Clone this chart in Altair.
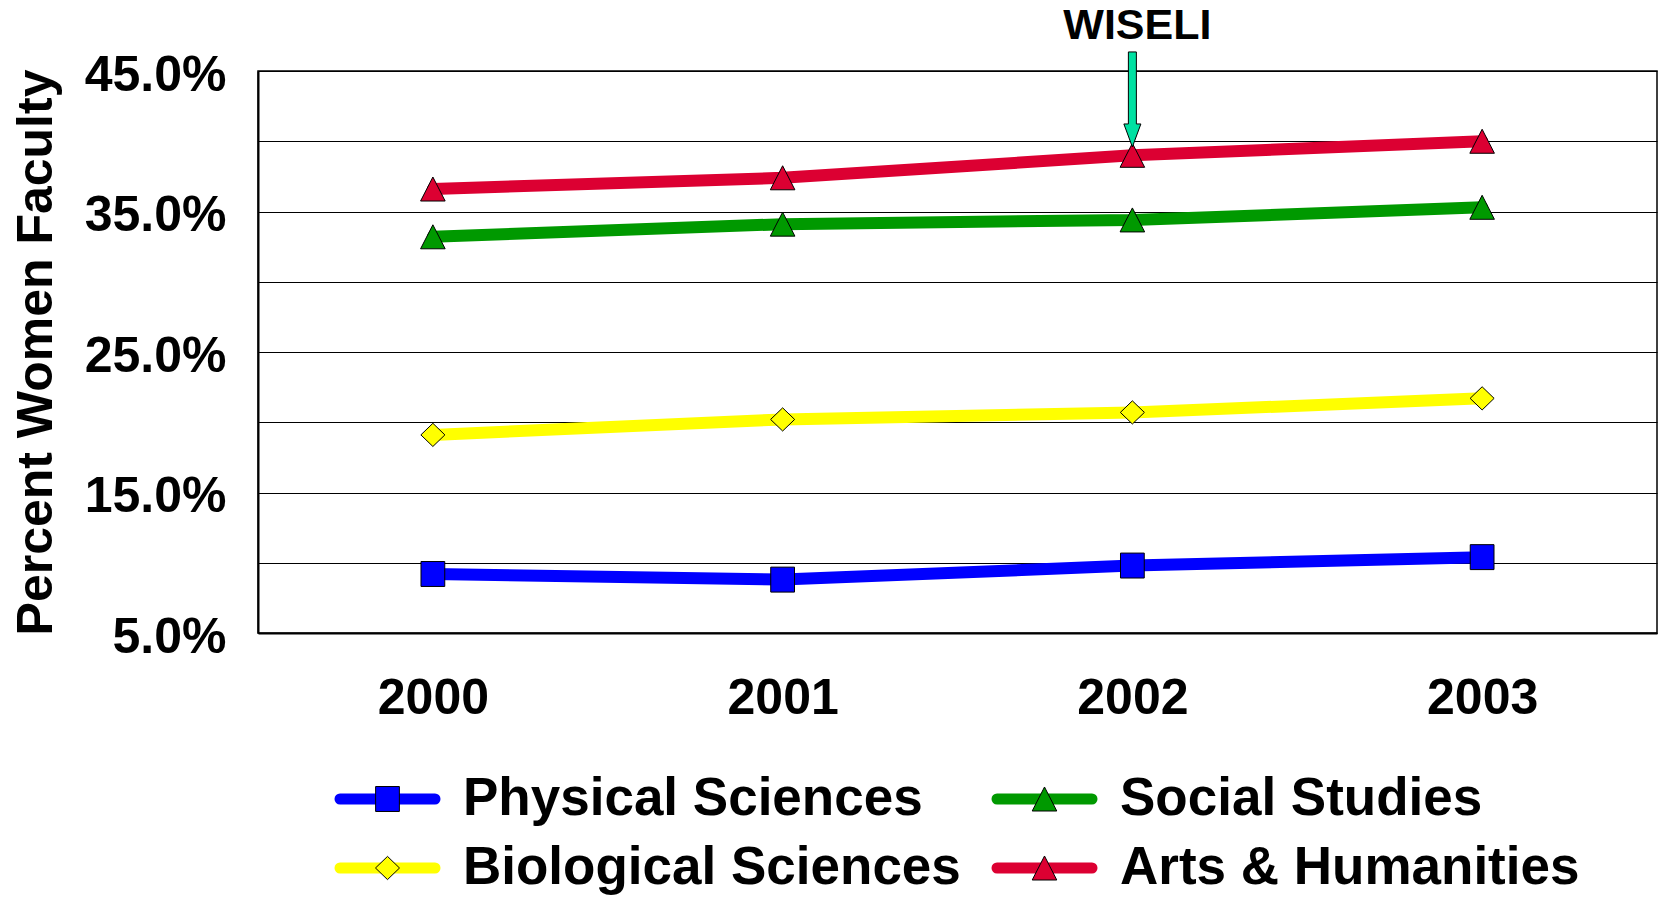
import altair as alt
import pandas as pd

# Share of women faculty by division, 2000-2003
YEARS = [2000, 2001, 2002, 2003]
SERIES = ["Physical Sciences", "Social Studies", "Biological Sciences", "Arts & Humanities"]
COLORS = ["#0000FF", "#009900", "#FFFF00", "#DC0032"]

physical = [9.2, 8.8, 9.8, 10.4]
social = [33.2, 34.1, 34.4, 35.3]
biological = [19.1, 20.2, 20.7, 21.7]
arts = [36.6, 37.4, 39.0, 40.0]
VALUES = [physical, social, biological, arts]

Y_TICKS = [5, 10, 15, 20, 25, 30, 35, 40, 45]

# WISELI start marker (points down at the 2002 Arts & Humanities value)
ARROW_YEAR = 2002
ARROW_TOP = 46.35
ARROW_TIP = 39.6

# marker outlines, in symbol units (scaled by sqrt(size)/2)
SQUARE = "M-0.205,-0.215L0.205,-0.215L0.205,0.215L-0.205,0.215Z"
TRIANGLE = "M0,-0.207L0.212,0.207L-0.212,0.207Z"
DIAMOND = "M0,-0.2L0.207,0L0,0.2L-0.207,0Z"
SHAPES = [SQUARE, TRIANGLE, DIAMOND, TRIANGLE]
ARROW = "M-0.084,-1L0.084,-1L0.084,0.516L0.179,0.516L0,1L-0.179,0.516L-0.084,0.516Z"
MARKER_SIZE = 13456

FONT = "Liberation Sans"

rows = []
for name, vals in zip(SERIES, VALUES):
    for year, v in zip(YEARS, vals):
        rows.append({"Year": year, "Series": name, "value": v})
df = pd.DataFrame(rows)

# two-by-two key below the plot: entries run left to right, then down
legend_df = pd.DataFrame({
    "Series": SERIES,
    "col": [i % 2 for i in range(len(SERIES))],
    "row": [i // 2 for i in range(len(SERIES))],
})

arrow_df = pd.DataFrame({
    "Year": [ARROW_YEAR],
    "mid": [(ARROW_TOP + ARROW_TIP) / 2],
    "top": [ARROW_TOP],
    "label": ["WISELI"],
})

color_scale = alt.Scale(domain=SERIES, range=COLORS)
shape_scale = alt.Scale(domain=SERIES, range=SHAPES)

x_enc = alt.X(
    "Year:Q",
    scale=alt.Scale(domain=[1999.5, 2003.5], nice=False, zero=False),
    axis=alt.Axis(
        values=YEARS, format="d", grid=False, ticks=False, tickSize=0,
        labelFontSize=50, labelFont=FONT, labelFontWeight="bold", labelColor="black",
        labelPadding=80, labelBaseline="alphabetic", labelFlush=False,
        domainColor="black", domainWidth=2, title=None,
    ),
)
y_enc = alt.Y(
    "value:Q",
    scale=alt.Scale(domain=[5, 45], nice=False, zero=False),
    axis=alt.Axis(
        values=Y_TICKS,
        labelExpr="datum.value % 10 == 5 ? format(datum.value, '.1f') + '%' : ''",
        grid=True, gridColor="black", gridWidth=1, ticks=False, tickSize=0,
        labelFontSize=50, labelFont=FONT, labelFontWeight="bold", labelColor="black",
        labelPadding=32, labelOffset=4, labelFlush=False, labelOverlap=False,
        domainColor="black", domainWidth=2,
        title="Percent Women Faculty", titleFontSize=50, titleFont=FONT,
        titleFontWeight="bold", titleColor="black", titleX=-207, titleY=281,
        titleBaseline="alphabetic", titleAngle=270,
    ),
)

lines = alt.Chart(df).mark_line(strokeWidth=12, strokeCap="round").encode(
    x=x_enc,
    y=y_enc,
    color=alt.Color("Series:N", scale=color_scale, legend=None),
)

points = alt.Chart(df).mark_point(
    filled=True, size=MARKER_SIZE, stroke="black", strokeWidth=1, opacity=1
).encode(
    x="Year:Q",
    y="value:Q",
    fill=alt.Fill("Series:N", scale=color_scale, legend=None),
    shape=alt.Shape("Series:N", scale=shape_scale, legend=None),
)

arrow = alt.Chart(arrow_df).mark_point(
    shape=ARROW, size=9025, filled=True, fill="#00E1A2", stroke="black",
    strokeWidth=1, opacity=1,
).encode(x="Year:Q", y="mid:Q")

arrow_label = alt.Chart(arrow_df).mark_text(
    fontSize=43, font=FONT, fontWeight="bold", color="black",
    align="center", baseline="alphabetic", dx=5, dy=-13,
).encode(x="Year:Q", y="top:Q", text="label:N")

plot = alt.layer(lines, points, arrow, arrow_label)

# key layout: column / row index -> pixel position below the plot area
key_x = alt.X("col:Q", scale=alt.Scale(domain=[0, 1], range=[129.5, 786.5]), axis=None)
key_y = alt.Y("row:Q", scale=alt.Scale(domain=[0, 1], range=[728, 797]), axis=None)

key_lines = alt.Chart(legend_df).mark_rule(
    strokeWidth=11, strokeCap="round", xOffset=-47.5, x2Offset=47.5
).encode(
    x=key_x, x2="col:Q", y=key_y,
    color=alt.Color("Series:N", scale=color_scale, legend=None),
)
key_markers = alt.Chart(legend_df).mark_point(
    filled=True, size=MARKER_SIZE, stroke="black", strokeWidth=1, opacity=1
).encode(
    x="col:Q", y="row:Q",
    fill=alt.Fill("Series:N", scale=color_scale, legend=None),
    shape=alt.Shape("Series:N", scale=shape_scale, legend=None),
)
key_labels = alt.Chart(legend_df).mark_text(
    fontSize=53, font=FONT, fontWeight="bold", color="black",
    align="left", baseline="middle", dx=75.5,
).encode(x="col:Q", y="row:Q", text="Series:N")

key = alt.layer(key_lines, key_markers, key_labels)

chart = (
    alt.layer(plot, key)
    .resolve_scale(x="independent", y="independent")
    .properties(
        width=1399, height=562,
        autosize=alt.AutoSizeParams(type="none"),
        padding={"left": 258, "top": 71, "right": 5, "bottom": 266},
        background="white",
    )
    .configure_view(stroke="black", strokeWidth=1.5)
)

chart.save("out.html", embed_options={"renderer": "svg", "actions": False})
